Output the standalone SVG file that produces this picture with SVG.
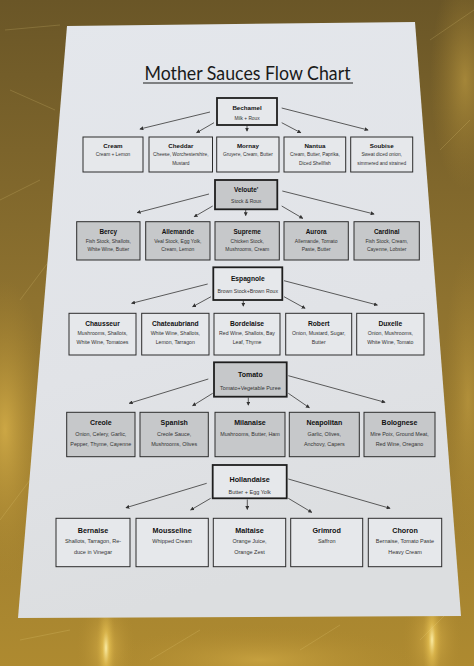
<svg xmlns="http://www.w3.org/2000/svg" width="474" height="666" viewBox="0 0 474 666">
<defs>
<linearGradient id="bg" x1="0" y1="0" x2="0" y2="1">
<stop offset="0" stop-color="#6a5627"/>
<stop offset="0.45" stop-color="#8e722f"/>
<stop offset="1" stop-color="#ae8a30"/>
</linearGradient>
<radialGradient id="hl1" cx="0.5" cy="0.5" r="0.5">
<stop offset="0" stop-color="#fff3b0" stop-opacity="0.9"/>
<stop offset="0.35" stop-color="#eac555" stop-opacity="0.55"/>
<stop offset="1" stop-color="#c09a38" stop-opacity="0"/>
</radialGradient>
<radialGradient id="hl2" cx="0.5" cy="0.5" r="0.5">
<stop offset="0" stop-color="#d9b24a" stop-opacity="0.8"/>
<stop offset="1" stop-color="#b08a30" stop-opacity="0"/>
</radialGradient>
<linearGradient id="paper" x1="0" y1="0" x2="0.2" y2="1">
<stop offset="0" stop-color="#e4e7ec"/>
<stop offset="0.6" stop-color="#e1e3e7"/>
<stop offset="1" stop-color="#dcdee0"/>
</linearGradient>
<marker id="ah" viewBox="0 0 6 6" refX="5" refY="3" markerWidth="4" markerHeight="4" orient="auto" markerUnits="userSpaceOnUse">
<path d="M0,0 L6,3 L0,6 z" fill="#333"/>
</marker>
<style>
.cb{stroke:#2c2c2c;stroke-width:1;}
.mb{stroke:#1e1e1e;stroke-width:1.8;}
.w{fill:#e6e8eb;}
.g{fill:#c6c8ca;}
.nm{font-family:"Liberation Sans",Arial,sans-serif;font-weight:bold;fill:#111111;text-anchor:middle;}
.dt{font-family:"Liberation Sans",Arial,sans-serif;fill:#333333;text-anchor:middle;}
.ln{stroke:#4a4a4a;stroke-width:0.9;fill:none;marker-end:url(#ah);}
.r1 .nm{font-size:6.2px;} .r1 .dt{font-size:4.8px;}
.r2 .nm{font-size:6.4px;} .r2 .dt{font-size:5px;}
.r3 .nm{font-size:6.7px;} .r3 .dt{font-size:5.2px;}
.r4 .nm{font-size:7px;} .r4 .dt{font-size:5.4px;}
.r5 .nm{font-size:7.2px;} .r5 .dt{font-size:5.5px;}
.st{stroke:#f4dc8a;stroke-width:0.6;opacity:0.3;}
</style>
</defs>

<!-- background metal -->
<rect x="0" y="0" width="474" height="666" fill="url(#bg)"/>
<ellipse cx="5" cy="430" rx="45" ry="150" fill="url(#hl2)"/>
<ellipse cx="465" cy="80" rx="35" ry="110" fill="url(#hl2)" opacity="0.6"/>
<ellipse cx="468" cy="400" rx="25" ry="150" fill="url(#hl2)" opacity="0.5"/>
<ellipse cx="260" cy="660" rx="160" ry="35" fill="url(#hl2)" opacity="0.7"/>
<ellipse cx="106" cy="648" rx="30" ry="55" fill="url(#hl2)"/>
<ellipse cx="106" cy="648" rx="10" ry="50" fill="url(#hl1)"/>
<ellipse cx="432" cy="640" rx="30" ry="55" fill="url(#hl2)"/>
<ellipse cx="432" cy="640" rx="10" ry="50" fill="url(#hl1)"/>
<g>
<line class="st" x1="5" y1="30" x2="60" y2="25"/>
<line class="st" x1="10" y1="90" x2="55" y2="110"/>
<line class="st" x1="0" y1="200" x2="40" y2="180"/>
<line class="st" x1="20" y1="300" x2="50" y2="260"/>
<line class="st" x1="0" y1="520" x2="30" y2="480"/>
<line class="st" x1="430" y1="40" x2="474" y2="10"/>
<line class="st" x1="440" y1="150" x2="470" y2="120"/>
<line class="st" x1="420" y1="640" x2="460" y2="600"/>
<line class="st" x1="150" y1="660" x2="200" y2="630"/>
<line class="st" x1="300" y1="650" x2="340" y2="625"/>
<line class="st" x1="20" y1="640" x2="70" y2="630"/>
</g>

<!-- paper -->
<polygon points="67,26 415,22 461,616 18,618" fill="url(#paper)"/>

<!-- title -->
<g id="title">
<text x="247.5" y="80" font-family="Lato,'Open Sans',sans-serif" font-size="18.5" fill="#1a1a1a" text-anchor="middle" textLength="206" lengthAdjust="spacingAndGlyphs">Mother Sauces Flow Chart</text>
<line x1="143" y1="83" x2="353" y2="83" stroke="#1a1a1a" stroke-width="1.2"/>
</g>

<!-- connectors -->
<g id="connectors">
<line class="ln" x1="210" y1="112" x2="140" y2="129"/>
<line class="ln" x1="214" y1="122.7" x2="196.7" y2="132.7"/>
<line class="ln" x1="247" y1="125.5" x2="247" y2="131"/>
<line class="ln" x1="281.7" y1="122.7" x2="300.7" y2="132.7"/>
<line class="ln" x1="281.7" y1="108" x2="368" y2="130"/>

<line class="ln" x1="209" y1="194" x2="137.3" y2="212.7"/>
<line class="ln" x1="212.7" y1="206" x2="194.3" y2="216.7"/>
<line class="ln" x1="245.7" y1="209.5" x2="245.7" y2="215.5"/>
<line class="ln" x1="281.7" y1="206" x2="302.7" y2="218.3"/>
<line class="ln" x1="282.3" y1="191" x2="374" y2="214"/>

<line class="ln" x1="207.7" y1="284" x2="131.7" y2="303.3"/>
<line class="ln" x1="211" y1="296.7" x2="192.7" y2="306.7"/>
<line class="ln" x1="243.3" y1="300.5" x2="243.3" y2="306"/>
<line class="ln" x1="284" y1="296.7" x2="305" y2="308.3"/>
<line class="ln" x1="284" y1="280.7" x2="377.3" y2="305"/>

<line class="ln" x1="208.3" y1="379" x2="129.3" y2="403.3"/>
<line class="ln" x1="212.7" y1="393.3" x2="192.7" y2="405.7"/>
<line class="ln" x1="248.3" y1="397.5" x2="248.3" y2="405"/>
<line class="ln" x1="288.3" y1="393.3" x2="309.3" y2="407.7"/>
<line class="ln" x1="288.3" y1="375.7" x2="385" y2="402.3"/>

<line class="ln" x1="206.7" y1="483.3" x2="126" y2="507.7"/>
<line class="ln" x1="210.7" y1="498.3" x2="190.7" y2="510"/>
<line class="ln" x1="247.3" y1="499.5" x2="247.3" y2="509.3"/>
<line class="ln" x1="288.3" y1="498.3" x2="311.7" y2="512.3"/>
<line class="ln" x1="288.3" y1="479" x2="390" y2="508.3"/>
</g>

<!-- Row 1 -->
<g class="r1">
<g id="bechamel"><rect class="mb w" x="217" y="98" width="60" height="27"/><text class="nm" x="247" y="109.5">Bechamel</text><text class="dt" x="247" y="119.5">Milk + Roux</text></g>
<g id="cream"><rect class="cb w" x="83" y="137" width="60" height="35"/><text class="nm" x="113" y="148">Cream</text><text class="dt" x="113" y="155.5">Cream + Lemon</text></g>
<g id="cheddar"><rect class="cb w" x="149" y="137" width="63.5" height="35"/><text class="nm" x="180.8" y="148">Cheddar</text><text class="dt" x="180.8" y="155.5">Cheese, Worchestershire,</text><text class="dt" x="180.8" y="164.5">Mustard</text></g>
<g id="mornay"><rect class="cb w" x="216.7" y="137" width="62.3" height="35"/><text class="nm" x="247.9" y="148">Mornay</text><text class="dt" x="247.9" y="155.5">Gruyere, Cream, Butter</text></g>
<g id="nantua"><rect class="cb w" x="284" y="137" width="61.7" height="35"/><text class="nm" x="314.9" y="148">Nantua</text><text class="dt" x="314.9" y="155.5">Cream, Butter, Paprika,</text><text class="dt" x="314.9" y="164.5">Diced Shellfish</text></g>
<g id="soubise"><rect class="cb w" x="350.7" y="137" width="62" height="35"/><text class="nm" x="381.7" y="148">Soubise</text><text class="dt" x="381.7" y="155.5">Sweat diced onion,</text><text class="dt" x="381.7" y="164.5">simmered and strained</text></g>
</g>

<!-- Row 2 -->
<g class="r2">
<g id="veloute"><rect class="mb g" x="215" y="180" width="62.3" height="29.3"/><text class="nm" x="246.2" y="191.5">Veloute'</text><text class="dt" x="246.2" y="203.3">Stock &amp; Roux</text></g>
<g id="berry"><rect class="cb g" x="76.7" y="221.7" width="63.3" height="38.3"/><text class="nm" x="108.3" y="234">Bercy</text><text class="dt" x="108.3" y="242.5">Fish Stock, Shallots,</text><text class="dt" x="108.3" y="251.3">White Wine, Butter</text></g>
<g id="allemande"><rect class="cb g" x="145.7" y="221.7" width="64.3" height="38.3"/><text class="nm" x="177.8" y="234">Allemande</text><text class="dt" x="177.8" y="242.5">Veal Stock, Egg Yolk,</text><text class="dt" x="177.8" y="251.3">Cream, Lemon</text></g>
<g id="supreme"><rect class="cb g" x="215" y="221.7" width="64.3" height="38.3"/><text class="nm" x="247.2" y="234">Supreme</text><text class="dt" x="247.2" y="242.5">Chicken Stock,</text><text class="dt" x="247.2" y="251.3">Mushrooms, Cream</text></g>
<g id="aurora"><rect class="cb g" x="284" y="221.7" width="64.3" height="38.3"/><text class="nm" x="316.2" y="234">Aurora</text><text class="dt" x="316.2" y="242.5">Allemande, Tomato</text><text class="dt" x="316.2" y="251.3">Paste, Butter</text></g>
<g id="cardinal"><rect class="cb g" x="354" y="221.7" width="65.3" height="38.3"/><text class="nm" x="386.7" y="234">Cardinal</text><text class="dt" x="386.7" y="242.5">Fish Stock, Cream,</text><text class="dt" x="386.7" y="251.3">Cayenne, Lobster</text></g>
</g>

<!-- Row 3 -->
<g class="r3">
<g id="espagnole"><rect class="mb w" x="213.3" y="267.3" width="69" height="32.7"/><text class="nm" x="247.8" y="280.5">Espagnole</text><text class="dt" x="247.8" y="293">Brown Stock+Brown Roux</text></g>
<g id="chausseur"><rect class="cb w" x="69" y="313.3" width="67" height="41.7"/><text class="nm" x="102.5" y="325.8">Chausseur</text><text class="dt" x="102.5" y="335">Mushrooms, Shallots,</text><text class="dt" x="102.5" y="344.3">White Wine, Tomatoes</text></g>
<g id="chateaubriand"><rect class="cb w" x="141.7" y="313.3" width="67.3" height="41.7"/><text class="nm" x="175.3" y="325.8">Chateaubriand</text><text class="dt" x="175.3" y="335">White Wine, Shallots,</text><text class="dt" x="175.3" y="344.3">Lemon, Tarragon</text></g>
<g id="bordelaise"><rect class="cb w" x="214" y="313.3" width="66" height="41.7"/><text class="nm" x="247" y="325.8">Bordelaise</text><text class="dt" x="247" y="335">Red Wine, Shallots, Bay</text><text class="dt" x="247" y="344.3">Leaf, Thyme</text></g>
<g id="robert"><rect class="cb w" x="285.7" y="313.3" width="66" height="41.7"/><text class="nm" x="318.7" y="325.8">Robert</text><text class="dt" x="318.7" y="335">Onion, Mustard, Sugar,</text><text class="dt" x="318.7" y="344.3">Butter</text></g>
<g id="duxelle"><rect class="cb w" x="356.7" y="313.3" width="67.3" height="41.7"/><text class="nm" x="390.3" y="325.8">Duxelle</text><text class="dt" x="390.3" y="335">Onion, Mushrooms,</text><text class="dt" x="390.3" y="344.3">White Wine, Tomato</text></g>
</g>

<!-- Row 4 -->
<g class="r4">
<g id="tomato"><rect class="mb g" x="214" y="362.3" width="72.7" height="34.4"/><text class="nm" x="250.3" y="376.5">Tomato</text><text class="dt" x="250.3" y="390.3">Tomato+Vegetable Puree</text></g>
<g id="creole"><rect class="cb g" x="66.7" y="412.3" width="68.3" height="44.4"/><text class="nm" x="100.8" y="425.3">Creole</text><text class="dt" x="100.8" y="436">Onion, Celery, Garlic,</text><text class="dt" x="100.8" y="446.3">Pepper, Thyme, Cayenne</text></g>
<g id="spanish"><rect class="cb g" x="140" y="412.3" width="68.3" height="44.4"/><text class="nm" x="174.2" y="425.3">Spanish</text><text class="dt" x="174.2" y="436">Creole Sauce,</text><text class="dt" x="174.2" y="446.3">Mushrooms, Olives</text></g>
<g id="milanaise"><rect class="cb g" x="215" y="412.3" width="70" height="44.4"/><text class="nm" x="250" y="425.3">Milanaise</text><text class="dt" x="250" y="436">Mushrooms, Butter, Ham</text></g>
<g id="neapolitan"><rect class="cb g" x="289.3" y="412.3" width="70" height="44.4"/><text class="nm" x="324.3" y="425.3">Neapolitan</text><text class="dt" x="324.3" y="436">Garlic, Olives,</text><text class="dt" x="324.3" y="446.3">Anchovy, Capers</text></g>
<g id="bolognese"><rect class="cb g" x="364" y="412.3" width="71" height="44.4"/><text class="nm" x="399.5" y="425.3">Bolognese</text><text class="dt" x="399.5" y="436">Mire Poix, Ground Meat,</text><text class="dt" x="399.5" y="446.3">Red Wine, Oregano</text></g>
</g>

<!-- Row 5 -->
<g class="r5">
<g id="hollandaise"><rect class="mb w" x="212.7" y="465" width="74" height="33.3"/><text class="nm" x="249.7" y="481.5">Hollandaise</text><text class="dt" x="249.7" y="494.3">Butter + Egg Yolk</text></g>
<g id="bernaise"><rect class="cb w" x="56" y="518.3" width="74" height="48.4"/><text class="nm" x="93" y="532.5">Bernaise</text><text class="dt" x="93" y="543">Shallots, Tarragon, Re-</text><text class="dt" x="93" y="554.3">duce in Vinegar</text></g>
<g id="mousseline"><rect class="cb w" x="136" y="518.3" width="72.3" height="48.4"/><text class="nm" x="172.2" y="532.5">Mousseline</text><text class="dt" x="172.2" y="543">Whipped Cream</text></g>
<g id="maltaise"><rect class="cb w" x="213.3" y="518.3" width="72.4" height="48.4"/><text class="nm" x="249.5" y="532.5">Maltaise</text><text class="dt" x="249.5" y="543">Orange Juice,</text><text class="dt" x="249.5" y="554.3">Orange Zest</text></g>
<g id="grimrod"><rect class="cb w" x="290.7" y="518.3" width="72" height="48.4"/><text class="nm" x="326.7" y="532.5">Grimrod</text><text class="dt" x="326.7" y="543">Saffron</text></g>
<g id="choron"><rect class="cb w" x="368.3" y="518.3" width="73.4" height="48.4"/><text class="nm" x="405" y="532.5">Choron</text><text class="dt" x="405" y="543">Bernaise, Tomato Paste</text><text class="dt" x="405" y="554.3">Heavy Cream</text></g>
</g>
</svg>
